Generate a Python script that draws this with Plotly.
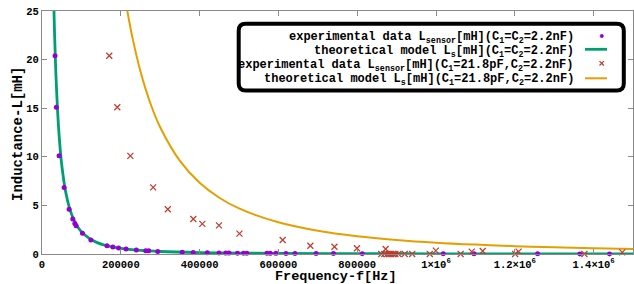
import plotly.graph_objects as go

# ---- data ----
f_exp1 = [33100, 36400, 43300, 56100, 68800, 78200, 83300, 86600, 102700, 124100,
          164900, 179900, 194400, 213300, 239500, 263200, 270900, 293800, 355900, 383700,
          419400, 449200, 466300, 474700, 496100, 511400, 519800, 570800, 579200, 593700,
          619200, 642100, 695600, 739700, 812800, 1018400, 1096400, 1257900, 1364900, 1440400]
L_exp1 = [20.4, 15.1, 10.1, 6.85, 4.6, 3.6, 3.15, 2.9, 2.13, 1.44,
          0.85, 0.72, 0.62, 0.52, 0.41, 0.34, 0.33, 0.26, 0.18, 0.16,
          0.13, 0.11, 0.10, 0.10, 0.09, 0.085, 0.08, 0.07, 0.068, 0.065,
          0.06, 0.055, 0.047, 0.042, 0.035, 0.022, 0.019, 0.014, 0.012, 0.011]

f_th1 = [30000, 32000, 35000, 40000, 45000, 50000, 60000, 70000, 80000, 90000, 100000,
         120000, 140000, 160000, 200000, 250000, 300000, 400000, 500000, 600000, 800000,
         1000000, 1200000, 1500000]
L_th1 = [25.6, 22.49, 18.80, 14.39, 11.37, 9.21, 6.40, 4.70, 3.60, 2.84, 2.30,
         1.60, 1.17, 0.90, 0.576, 0.368, 0.256, 0.144, 0.092, 0.064, 0.036,
         0.023, 0.016, 0.010]

f_exp2 = [170700, 191100, 224200, 282100, 319300, 384000, 406900, 449200, 501200, 610800,
          681100, 742300, 799400, 872200, 861200, 868900, 876500, 881600, 886700, 891800,
          896900, 904600, 920600, 939500, 984300, 999600, 1062500, 1090600, 1118600, 1200900,
          1209600, 1376700, 1472700]
L_exp2 = [20.4, 15.1, 10.1, 6.85, 4.6, 3.6, 3.1, 2.95, 2.1, 1.44,
          0.85, 0.75, 0.59, 0.51, 0.0, 0.0, 0.0, 0.0, 0.0, 0.0,
          0.0, 0.0, 0.0, 0.0, 0.0, 0.34, 0.0, 0.24, 0.31, 0.0,
          0.24, 0.0, 0.17]

f_th2 = [215000, 220000, 230000, 250000, 275000, 300000, 350000, 400000, 450000, 500000,
         600000, 700000, 800000, 900000, 1000000, 1100000, 1200000, 1300000, 1400000, 1500000]
L_th2 = [25.38, 24.24, 22.18, 18.77, 15.51, 13.04, 9.58, 7.33, 5.79, 4.69,
         3.26, 2.39, 1.83, 1.45, 1.17, 0.97, 0.81, 0.69, 0.60, 0.52]

x_tickvals = [0, 200000, 400000, 600000, 800000, 1000000, 1200000, 1400000]
x_ticktext = ["0", "200000", "400000", "600000", "800000",
              "1×10<sup>6</sup>", "1.2×10<sup>6</sup>", "1.4×10<sup>6</sup>"]
y_tickvals = [0, 5, 10, 15, 20, 25]

legend_labels = [
    "experimental data L<sub>sensor</sub>[mH](C<sub>1</sub>=C<sub>2</sub>=2.2nF)",
    "theoretical model L<sub>s</sub>[mH](C<sub>1</sub>=C<sub>2</sub>=2.2nF)",
    "experimental data L<sub>sensor</sub>[mH](C<sub>1</sub>=21.8pF,C<sub>2</sub>=2.2nF)",
    "theoretical model L<sub>s</sub>[mH](C<sub>1</sub>=21.8pF,C<sub>2</sub>=2.2nF)",
]

PURPLE = "#9400d3"
GREEN = "#009e73"
RED = "#c0392b"
ORANGE = "#e69f00"
GRAY = "#8a8a8a"
FONT = "Courier New, Liberation Mono, monospace"

W, H = 634, 284
ML, MR, MT, MB = 42, 1, 11, 30
PW, PH = W - ML - MR, H - MT - MB

def px(x):
    return (x - ML) / PW

def py(y):
    return (H - MB - y) / PH

fig = go.Figure()
fig.add_trace(go.Scatter(x=f_th1, y=L_th1, mode="lines", line=dict(color=GREEN, width=2.8, shape="spline"),
                         showlegend=False))
fig.add_trace(go.Scatter(x=f_th2, y=L_th2, mode="lines", line=dict(color=ORANGE, width=2, shape="spline"),
                         showlegend=False))
fig.add_trace(go.Scatter(x=f_exp1, y=L_exp1, mode="markers", cliponaxis=False,
                         marker=dict(color=PURPLE, size=5, symbol="circle"), showlegend=False))
fig.add_trace(go.Scatter(x=f_exp2, y=L_exp2, mode="markers", cliponaxis=False,
                         marker=dict(color=RED, size=6, symbol="x-thin-open", line=dict(color=RED, width=1.2)),
                         showlegend=False))

axis_common = dict(showline=True, linecolor=GRAY, linewidth=1, mirror="ticks", ticks="inside",
                   ticklen=5, tickcolor=GRAY, showgrid=False, zeroline=False,
                   tickfont=dict(family=FONT, size=10.5, color="black", weight="bold"))
fig.update_xaxes(range=[0, 1500000], tickmode="array", tickvals=x_tickvals, ticktext=x_ticktext, **axis_common)
fig.update_yaxes(range=[0, 25], tickmode="array", tickvals=y_tickvals, **axis_common)

# legend box (gnuplot style, rounded)
x0, x1 = px(238.7), px(623.8)
y0, y1 = py(90.5), py(23.7)
rx, ry = 7 / PW, 7 / PH
path = (f"M {x0+rx},{y1} L {x1-rx},{y1} Q {x1},{y1} {x1},{y1-ry} "
        f"L {x1},{y0+ry} Q {x1},{y0} {x1-rx},{y0} L {x0+rx},{y0} "
        f"Q {x0},{y0} {x0},{y0+ry} L {x0},{y1-ry} Q {x0},{y1} {x0+rx},{y1} Z")
shapes = [dict(type="path", xref="paper", yref="paper", path=path,
               line=dict(color="black", width=4), fillcolor="white", layer="above")]

text_y = [38, 51.7, 65.5, 80]
sample_y = [36, 49.3, 63.3, 78.3]
annotations = []
for lab, yy in zip(legend_labels, text_y):
    annotations.append(dict(text=lab, xref="paper", yref="paper", x=px(576), y=py(yy),
                            xanchor="right", yanchor="middle", showarrow=False,
                            font=dict(family=FONT, size=12, color="black", weight="bold")))

# legend samples
shapes.append(dict(type="circle", xref="paper", yref="paper",
                   x0=px(600), x1=px(603.5), y0=py(sample_y[0] + 1.75), y1=py(sample_y[0] - 1.75),
                   fillcolor=PURPLE, line=dict(color=PURPLE, width=0.5), layer="above"))
shapes.append(dict(type="line", xref="paper", yref="paper", x0=px(585), x1=px(607),
                   y0=py(sample_y[1]), y1=py(sample_y[1]), line=dict(color=GREEN, width=2.8), layer="above"))
c = 2.2
shapes.append(dict(type="line", xref="paper", yref="paper", x0=px(601.7 - c), x1=px(601.7 + c),
                   y0=py(sample_y[2] - c), y1=py(sample_y[2] + c), line=dict(color=RED, width=1.2), layer="above"))
shapes.append(dict(type="line", xref="paper", yref="paper", x0=px(601.7 - c), x1=px(601.7 + c),
                   y0=py(sample_y[2] + c), y1=py(sample_y[2] - c), line=dict(color=RED, width=1.2), layer="above"))
shapes.append(dict(type="line", xref="paper", yref="paper", x0=px(585), x1=px(607),
                   y0=py(sample_y[3]), y1=py(sample_y[3]), line=dict(color=ORANGE, width=2), layer="above"))

# axis titles
annotations.append(dict(text="Frequency-f[Hz]", xref="paper", yref="paper", x=px(336), y=py(276.5),
                        xanchor="center", yanchor="middle", showarrow=False,
                        font=dict(family=FONT, size=13.5, color="black", weight="bold")))
annotations.append(dict(text="Inductance-L[mH]", xref="paper", yref="paper", x=px(18), y=py(134),
                        xanchor="center", yanchor="middle", showarrow=False, textangle=-90,
                        font=dict(family=FONT, size=14, color="black", weight="bold")))

fig.update_layout(width=W, height=H, margin=dict(l=ML, r=MR, t=MT, b=MB, pad=0),
                  paper_bgcolor="white", plot_bgcolor="white", showlegend=False,
                  shapes=shapes, annotations=annotations)

fig.write_html("out.html", config={"displayModeBar": False},
               post_script="document.body.style.margin='0px';document.body.style.padding='0px';")
